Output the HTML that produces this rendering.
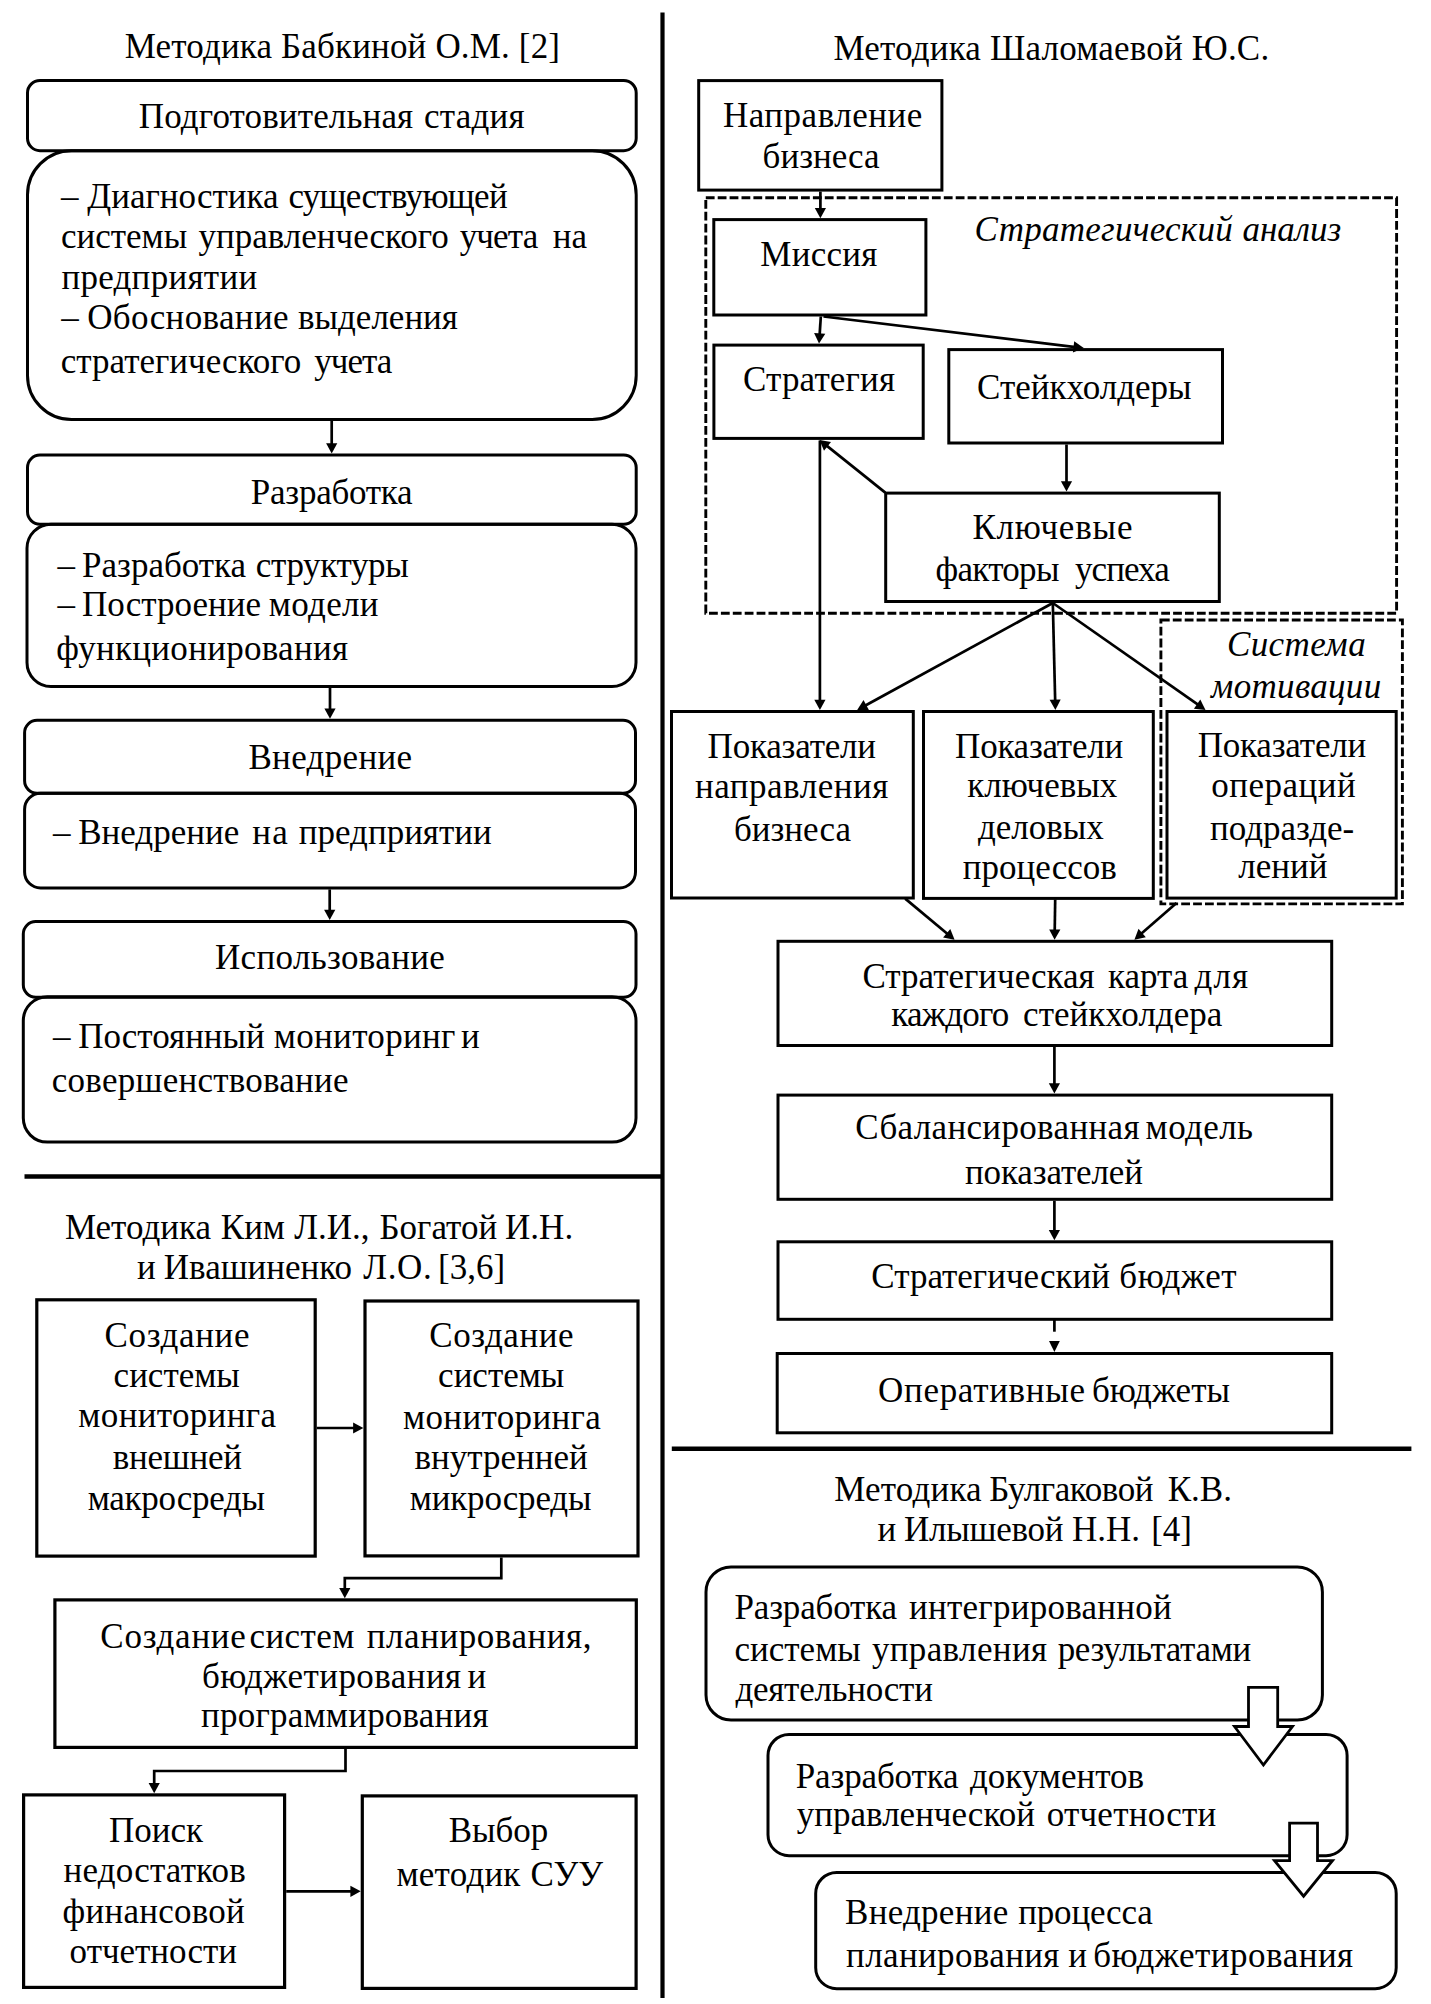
<!DOCTYPE html>
<html><head><meta charset="utf-8"><style>
html,body{margin:0;padding:0;background:#fff;overflow:hidden;width:1431px;height:2004px;}
svg{display:block;}
text{font-family:"Liberation Serif",serif;font-size:35px;fill:#000;}
</style></head><body>
<svg width="1431" height="2004" viewBox="0 0 1431 2004">
<line x1="662.5" y1="12.5" x2="662.5" y2="1998.0" stroke="#000" stroke-width="4.2"/>
<line x1="24.5" y1="1176.5" x2="662.5" y2="1176.5" stroke="#000" stroke-width="4.5"/>
<line x1="671.8" y1="1448.8" x2="1411.4" y2="1448.8" stroke="#000" stroke-width="4.5"/>
<text y="57.9"><tspan x="124.8" style="letter-spacing:0.160px">Методика Бабкиной О.М. [2]</tspan></text>
<rect x="27.5" y="80.5" width="608.7" height="70.2" rx="12.5" fill="none" stroke="#000" stroke-width="3"/>
<text y="128.4"><tspan x="138.8" style="letter-spacing:0.140px">Подготовительная</tspan> <tspan x="423.9" style="letter-spacing:0.240px">стадия</tspan></text>
<rect x="27.5" y="150.7" width="608.7" height="268.8" rx="44" fill="none" stroke="#000" stroke-width="3"/>
<text y="208.3"><tspan x="61.1">–</tspan> <tspan x="87.3">Диагностика</tspan> <tspan x="288.4" style="letter-spacing:-0.700px">существующей</tspan></text>
<text y="247.5"><tspan x="60.9">системы</tspan> <tspan x="198.5">управленческого</tspan> <tspan x="459.7" style="letter-spacing:-0.850px">учета</tspan> <tspan x="552.7">на</tspan></text>
<text y="289.4"><tspan x="61.4" style="letter-spacing:0.280px">предприятии</tspan></text>
<text y="329.0"><tspan x="61.3">–</tspan> <tspan x="87.2" style="letter-spacing:0.350px">Обоснование</tspan> <tspan x="298.0">выделения</tspan></text>
<text y="373.0"><tspan x="60.8">стратегического</tspan> <tspan x="314.2" style="letter-spacing:-0.925px">учета</tspan></text>
<line x1="331.7" y1="421.0" x2="331.7" y2="445.3" stroke="#000" stroke-width="2.7"/>
<polygon points="331.7,453.6 326.1,443.3 337.3,443.3" fill="#000"/>
<rect x="27.5" y="455.1" width="608.7" height="69.2" rx="12.5" fill="none" stroke="#000" stroke-width="3"/>
<text y="503.6"><tspan x="250.8" style="letter-spacing:-0.244px">Разработка</tspan></text>
<rect x="27.0" y="524.2" width="609.0" height="162.3" rx="24" fill="none" stroke="#000" stroke-width="3"/>
<text y="576.7"><tspan x="57.5">–</tspan> <tspan x="82.1">Разработка</tspan> <tspan x="255.8" style="letter-spacing:-0.337px">структуры</tspan></text>
<text y="615.8"><tspan x="57.5">–</tspan> <tspan x="82.1">Построение</tspan> <tspan x="268.8" style="letter-spacing:0.300px">модели</tspan></text>
<text y="659.8"><tspan x="56.2" style="letter-spacing:0.280px">функционирования</tspan></text>
<line x1="330.0" y1="688.0" x2="330.0" y2="710.5" stroke="#000" stroke-width="2.7"/>
<polygon points="330.0,718.8 324.4,708.5 335.6,708.5" fill="#000"/>
<rect x="24.6" y="720.3" width="610.9" height="73.0" rx="12.5" fill="none" stroke="#000" stroke-width="3"/>
<text y="768.7"><tspan x="248.4" style="letter-spacing:0.338px">Внедрение</tspan></text>
<rect x="24.6" y="793.3" width="610.9" height="94.6" rx="16" fill="none" stroke="#000" stroke-width="3"/>
<text y="843.5"><tspan x="53.0">–</tspan> <tspan x="78.2">Внедрение</tspan> <tspan x="252.2" style="letter-spacing:1.300px">на</tspan> <tspan x="298.8">предприятии</tspan></text>
<line x1="329.7" y1="889.4" x2="329.7" y2="911.8" stroke="#000" stroke-width="2.7"/>
<polygon points="329.7,920.1 324.1,909.8 335.3,909.8" fill="#000"/>
<rect x="23.3" y="921.6" width="612.7" height="75.7" rx="12.5" fill="none" stroke="#000" stroke-width="3"/>
<text y="969.3"><tspan x="215.0" style="letter-spacing:0.342px">Использование</tspan></text>
<rect x="23.3" y="996.7" width="612.7" height="145.4" rx="24" fill="none" stroke="#000" stroke-width="3"/>
<text y="1047.7"><tspan x="53.0">–</tspan> <tspan x="78.2">Постоянный</tspan> <tspan x="273.7" style="letter-spacing:0.333px">мониторинг</tspan> <tspan x="461.1">и</tspan></text>
<text y="1092.2"><tspan x="51.8" style="letter-spacing:0.250px">совершенствование</tspan></text>
<text y="1238.6"><tspan x="64.9">Методика</tspan> <tspan x="220.8">Ким</tspan> <tspan x="294.3">Л.И.,</tspan> <tspan x="379.5">Богатой</tspan> <tspan x="505.1">И.Н.</tspan></text>
<text y="1278.7"><tspan x="137.1">и</tspan> <tspan x="163.8">Ивашиненко</tspan> <tspan x="363.2" style="letter-spacing:0.700px">Л.О.</tspan> <tspan x="438.1">[3,6]</tspan></text>
<rect x="36.8" y="1299.8" width="278.4" height="256.3" fill="none" stroke="#000" stroke-width="3.2"/>
<text y="1346.9"><tspan x="104.6" style="letter-spacing:0.643px">Создание</tspan></text>
<text y="1386.5"><tspan x="113.6">системы</tspan></text>
<text y="1427.3"><tspan x="78.3" style="letter-spacing:0.340px">мониторинга</tspan></text>
<text y="1468.6"><tspan x="112.8" style="letter-spacing:-0.250px">внешней</tspan></text>
<text y="1510.4"><tspan x="87.7" style="letter-spacing:-0.256px">макросреды</tspan></text>
<rect x="365.0" y="1301.0" width="273.0" height="254.9" fill="none" stroke="#000" stroke-width="3.2"/>
<text y="1347.2"><tspan x="429.3" style="letter-spacing:0.557px">Создание</tspan></text>
<text y="1386.9"><tspan x="438.1">системы</tspan></text>
<text y="1428.5"><tspan x="402.9" style="letter-spacing:0.370px">мониторинга</tspan></text>
<text y="1468.7"><tspan x="414.5">внутренней</tspan></text>
<text y="1510.3"><tspan x="409.7" style="letter-spacing:-0.156px">микросреды</tspan></text>
<line x1="316.8" y1="1428.0" x2="355.1" y2="1428.0" stroke="#000" stroke-width="2.7"/>
<polygon points="363.4,1428.0 353.1,1433.6 353.1,1422.4" fill="#000"/>
<polyline points="501.3,1557.5 501.3,1578.1 344.8,1578.1 344.8,1590.0" fill="none" stroke="#000" stroke-width="2.7" stroke-linejoin="miter"/>
<polygon points="344.8,1598.3 339.2,1588.0 350.4,1588.0" fill="#000"/>
<rect x="54.9" y="1599.9" width="581.4" height="147.5" fill="none" stroke="#000" stroke-width="3.2"/>
<text y="1648.0"><tspan x="100.3" style="letter-spacing:0.743px">Создание</tspan> <tspan x="249.5" style="letter-spacing:0.420px">систем</tspan> <tspan x="366.8" style="letter-spacing:0.550px">планирования,</tspan></text>
<text y="1687.5"><tspan x="202.0" style="letter-spacing:0.446px">бюджетирования</tspan> <tspan x="467.5">и</tspan></text>
<text y="1727.3"><tspan x="201.0" style="letter-spacing:0.220px">программирования</tspan></text>
<polyline points="345.5,1749.0 345.5,1771.0 154.2,1771.0 154.2,1785.0" fill="none" stroke="#000" stroke-width="2.7" stroke-linejoin="miter"/>
<polygon points="154.2,1793.3 148.6,1783.0 159.8,1783.0" fill="#000"/>
<rect x="23.6" y="1794.9" width="261.0" height="192.5" fill="none" stroke="#000" stroke-width="3.2"/>
<text y="1842.0"><tspan x="108.9">Поиск</tspan></text>
<text y="1882.3"><tspan x="63.6" style="letter-spacing:0.170px">недостатков</tspan></text>
<text y="1923.2"><tspan x="62.6" style="letter-spacing:0.256px">финансовой</tspan></text>
<text y="1963.4"><tspan x="69.6">отчетности</tspan></text>
<rect x="362.3" y="1795.9" width="273.8" height="192.5" fill="none" stroke="#000" stroke-width="3.2"/>
<text y="1842.2"><tspan x="448.7">Выбор</tspan></text>
<text y="1886.2"><tspan x="396.5" style="letter-spacing:0.217px">методик</tspan> <tspan x="530.5">СУУ</tspan></text>
<line x1="286.2" y1="1891.3" x2="352.4" y2="1891.3" stroke="#000" stroke-width="2.7"/>
<polygon points="360.7,1891.3 350.4,1896.9 350.4,1885.7" fill="#000"/>
<text y="60.0"><tspan x="833.5" style="letter-spacing:0.187px">Методика Шаломаевой Ю.С.</tspan></text>
<rect x="698.7" y="80.6" width="243.2" height="109.5" fill="none" stroke="#000" stroke-width="3"/>
<text y="126.6"><tspan x="723.0" style="letter-spacing:0.510px">Направление</tspan></text>
<text y="168.1"><tspan x="762.6">бизнеса</tspan></text>
<rect x="705.8" y="197.8" width="690.8" height="415.4" fill="none" stroke="#000" stroke-width="2.9" stroke-dasharray="8.8 3.1"/>
<line x1="820.4" y1="191.6" x2="820.4" y2="209.9" stroke="#000" stroke-width="2.7"/>
<polygon points="820.4,218.2 814.8,207.9 826.0,207.9" fill="#000"/>
<rect x="713.8" y="219.6" width="212.1" height="95.4" fill="none" stroke="#000" stroke-width="3"/>
<text y="266.0"><tspan x="760.3" style="letter-spacing:0.280px">Миссия</tspan></text>
<text y="240.5" font-style="italic"><tspan x="974.6" style="letter-spacing:0.254px">Стратегический</tspan> <tspan x="1242.5">анализ</tspan></text>
<line x1="820.8" y1="316.5" x2="819.6" y2="335.3" stroke="#000" stroke-width="2.7"/>
<polygon points="819.0,343.6 814.1,333.0 825.3,333.7" fill="#000"/>
<line x1="823.5" y1="316.5" x2="1075.6" y2="347.1" stroke="#000" stroke-width="2.7"/>
<polygon points="1083.8,348.1 1072.9,352.4 1074.2,341.3" fill="#000"/>
<rect x="713.9" y="345.1" width="209.3" height="93.3" fill="none" stroke="#000" stroke-width="3"/>
<text y="390.8"><tspan x="743.0" style="letter-spacing:0.162px">Стратегия</tspan></text>
<rect x="948.8" y="349.6" width="273.7" height="93.4" fill="none" stroke="#000" stroke-width="3"/>
<text y="398.6"><tspan x="977.1">Стейкхолдеры</tspan></text>
<line x1="1066.5" y1="444.5" x2="1066.5" y2="483.3" stroke="#000" stroke-width="2.7"/>
<polygon points="1066.5,491.6 1060.9,481.3 1072.1,481.3" fill="#000"/>
<rect x="885.7" y="493.1" width="333.6" height="108.4" fill="none" stroke="#000" stroke-width="3"/>
<text y="539.0"><tspan x="972.4" style="letter-spacing:0.814px">Ключевые</tspan></text>
<text y="580.5"><tspan x="935.6" style="letter-spacing:-0.717px">факторы</tspan> <tspan x="1075.0" style="letter-spacing:-0.940px">успеха</tspan></text>
<line x1="885.3" y1="492.6" x2="826.0" y2="445.1" stroke="#000" stroke-width="2.7"/>
<polygon points="819.5,439.9 831.0,442.0 824.0,450.7" fill="#000"/>
<line x1="819.9" y1="440.5" x2="819.9" y2="701.7" stroke="#000" stroke-width="2.7"/>
<polygon points="819.9,710.0 814.3,699.7 825.5,699.7" fill="#000"/>
<line x1="1052.8" y1="603.0" x2="864.5" y2="706.0" stroke="#000" stroke-width="2.7"/>
<polygon points="857.2,710.0 863.5,700.1 868.9,710.0" fill="#000"/>
<line x1="1052.8" y1="603.0" x2="1055.2" y2="701.7" stroke="#000" stroke-width="2.7"/>
<polygon points="1055.4,710.0 1049.6,699.8 1060.7,699.6" fill="#000"/>
<line x1="1052.8" y1="603.0" x2="1198.7" y2="705.2" stroke="#000" stroke-width="2.7"/>
<polygon points="1205.5,710.0 1193.9,708.7 1200.3,699.5" fill="#000"/>
<rect x="1160.9" y="620.0" width="241.5" height="283.9" fill="none" stroke="#000" stroke-width="2.9" stroke-dasharray="8.8 3.1"/>
<text y="656.2" font-style="italic"><tspan x="1226.9" style="letter-spacing:0.433px">Система</tspan></text>
<text y="697.7" font-style="italic"><tspan x="1211.0" style="letter-spacing:0.325px">мотивации</tspan></text>
<rect x="671.5" y="711.5" width="241.8" height="186.5" fill="none" stroke="#000" stroke-width="3"/>
<text y="757.7"><tspan x="707.6" style="letter-spacing:-0.200px">Показатели</tspan></text>
<text y="797.7"><tspan x="695.0" style="letter-spacing:0.510px">направления</tspan></text>
<text y="841.3"><tspan x="734.0">бизнеса</tspan></text>
<rect x="923.5" y="711.5" width="229.8" height="186.9" fill="none" stroke="#000" stroke-width="3"/>
<text y="757.8"><tspan x="955.1" style="letter-spacing:-0.244px">Показатели</tspan></text>
<text y="797.2"><tspan x="967.3">ключевых</tspan></text>
<text y="839.2"><tspan x="977.9">деловых</tspan></text>
<text y="878.6"><tspan x="962.8">процессов</tspan></text>
<rect x="1167.0" y="711.5" width="229.2" height="186.6" fill="none" stroke="#000" stroke-width="3"/>
<text y="757.2"><tspan x="1197.7" style="letter-spacing:-0.189px">Показатели</tspan></text>
<text y="796.8"><tspan x="1211.3" style="letter-spacing:0.486px">операций</tspan></text>
<text y="839.8"><tspan x="1210.0">подразде-</tspan></text>
<text y="877.9"><tspan x="1238.3">лений</tspan></text>
<line x1="905.2" y1="898.6" x2="948.2" y2="934.5" stroke="#000" stroke-width="2.7"/>
<polygon points="954.6,939.8 943.1,937.5 950.3,928.9" fill="#000"/>
<line x1="1055.2" y1="899.5" x2="1054.7" y2="931.5" stroke="#000" stroke-width="2.7"/>
<polygon points="1054.6,939.8 1049.2,929.4 1060.4,929.6" fill="#000"/>
<line x1="1176.5" y1="903.0" x2="1140.6" y2="934.3" stroke="#000" stroke-width="2.7"/>
<polygon points="1134.4,939.8 1138.5,928.8 1145.8,937.2" fill="#000"/>
<rect x="778.0" y="941.3" width="553.7" height="104.2" fill="none" stroke="#000" stroke-width="3"/>
<text y="988.0"><tspan x="862.4">Стратегическая</tspan> <tspan x="1108.0">карта</tspan> <tspan x="1194.6" style="letter-spacing:1.050px">для</tspan></text>
<text y="1026.3"><tspan x="891.3" style="letter-spacing:-0.767px">каждого</tspan> <tspan x="1023.1">стейкхолдера</tspan></text>
<line x1="1054.4" y1="1047.0" x2="1054.4" y2="1085.3" stroke="#000" stroke-width="2.7"/>
<polygon points="1054.4,1093.6 1048.8,1083.3 1060.0,1083.3" fill="#000"/>
<rect x="778.0" y="1095.1" width="553.7" height="104.2" fill="none" stroke="#000" stroke-width="3"/>
<text y="1139.0"><tspan x="855.3" style="letter-spacing:0.340px">Сбалансированная</tspan> <tspan x="1145.6" style="letter-spacing:0.400px">модель</tspan></text>
<text y="1184.3"><tspan x="965.0" style="letter-spacing:-0.130px">показателей</tspan></text>
<line x1="1054.4" y1="1200.8" x2="1054.4" y2="1232.0" stroke="#000" stroke-width="2.7"/>
<polygon points="1054.4,1240.3 1048.8,1230.0 1060.0,1230.0" fill="#000"/>
<rect x="778.0" y="1241.8" width="553.7" height="77.5" fill="none" stroke="#000" stroke-width="3"/>
<text y="1287.7"><tspan x="871.3">Стратегический</tspan> <tspan x="1119.3" style="letter-spacing:0.560px">бюджет</tspan></text>
<line x1="1054.4" y1="1319.9" x2="1054.4" y2="1331.7" stroke="#000" stroke-width="2.7"/>
<polygon points="1054.4,1352.0 1049.0,1341.0 1059.8,1341.0" fill="#000"/>
<rect x="777.2" y="1353.5" width="554.5" height="79.3" fill="none" stroke="#000" stroke-width="3"/>
<text y="1402.4"><tspan x="878.0" style="letter-spacing:0.700px">Оперативные</tspan> <tspan x="1091.9">бюджеты</tspan></text>
<text y="1501.3"><tspan x="834.2" style="letter-spacing:0.200px">Методика</tspan> <tspan x="989.3" style="letter-spacing:-0.400px">Булгаковой</tspan> <tspan x="1167.7">К.В.</tspan></text>
<text y="1541.0"><tspan x="877.4">и</tspan> <tspan x="904.0" style="letter-spacing:-0.243px">Илышевой</tspan> <tspan x="1072.0">Н.Н.</tspan> <tspan x="1151.2">[4]</tspan></text>
<rect x="706.0" y="1566.9" width="616.4" height="153.1" rx="25" fill="none" stroke="#000" stroke-width="3"/>
<text y="1619.2"><tspan x="734.5" style="letter-spacing:-0.167px">Разработка</tspan> <tspan x="908.9" style="letter-spacing:0.271px">интегрированной</tspan></text>
<text y="1661.2"><tspan x="734.5">системы</tspan> <tspan x="871.9" style="letter-spacing:0.367px">управления</tspan> <tspan x="1057.7" style="letter-spacing:-0.318px">результатами</tspan></text>
<text y="1701.2"><tspan x="735.5" style="letter-spacing:-0.273px">деятельности</tspan></text>
<rect x="768.0" y="1734.5" width="579.1" height="121.2" rx="21" fill="none" stroke="#000" stroke-width="3"/>
<text y="1787.5"><tspan x="795.8" style="letter-spacing:-0.144px">Разработка</tspan> <tspan x="969.9">документов</tspan></text>
<text y="1825.6"><tspan x="796.8">управленческой</tspan> <tspan x="1046.7" style="letter-spacing:0.244px">отчетности</tspan></text>
<rect x="815.7" y="1872.5" width="580.5" height="116.2" rx="21" fill="none" stroke="#000" stroke-width="3"/>
<text y="1923.6"><tspan x="845.1" style="letter-spacing:0.263px">Внедрение</tspan> <tspan x="1018.3" style="letter-spacing:-0.214px">процесса</tspan></text>
<text y="1967.2"><tspan x="846.1" style="letter-spacing:0.364px">планирования</tspan> <tspan x="1068.3">и</tspan> <tspan x="1093.3" style="letter-spacing:0.500px">бюджетирования</tspan></text>
<polygon points="1248.5,1687.4 1277.7,1687.4 1277.7,1726.5 1292.5,1726.5 1263.4,1765.0 1234.5,1726.5 1248.5,1726.5" fill="#fff" stroke="#000" stroke-width="2.8" stroke-linejoin="miter"/>
<polygon points="1289.6,1823.2 1317.5,1823.2 1317.5,1860.6 1332.5,1860.6 1303.6,1896.2 1274.5,1860.6 1289.6,1860.6" fill="#fff" stroke="#000" stroke-width="2.8" stroke-linejoin="miter"/>
</svg>
</body></html>
